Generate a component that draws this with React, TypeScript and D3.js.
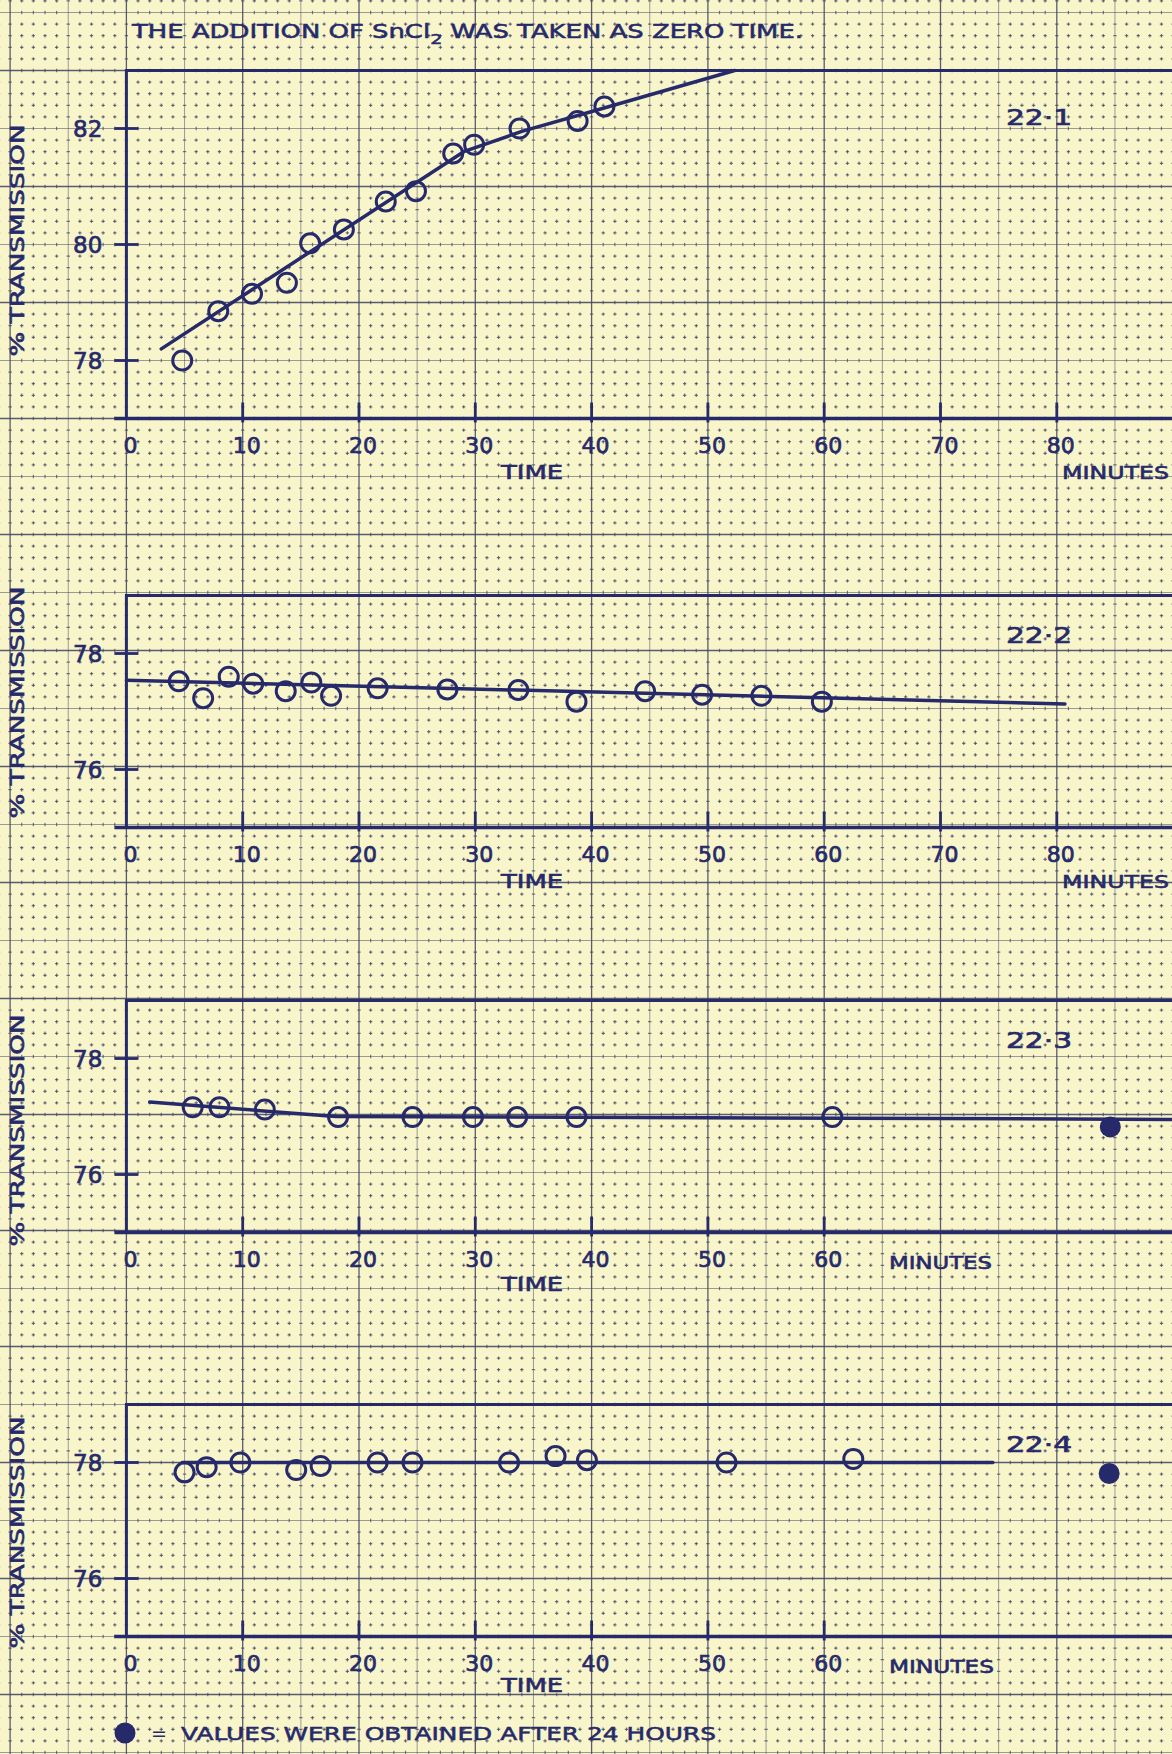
import React from 'react';
import * as d3 from 'd3';

const W = 1172;
const H = 1754;
const BG = '#f8f5ca';
const INK = '#262a6b';
const GRID = '#3f4160';
const FONT = '"DejaVu Sans", "Liberation Sans", sans-serif';

// ---------- data (time in minutes, % transmission) ----------
const p1Times = [4.8, 7.9, 10.8, 13.8, 15.8, 18.7, 22.3, 24.9, 28.1, 29.9, 33.8, 38.8, 41.1];
const p1Values = [78.0, 78.85, 79.15, 79.34, 80.02, 80.26, 80.74, 80.92, 81.57, 81.72, 82.0, 82.13, 82.38];
const p1FitTimes = [3, 29, 34, 41, 52.3];
const p1FitValues = [78.2, 81.6, 81.95, 82.35, 83.0];

const p2Times = [4.5, 6.6, 8.8, 10.9, 13.7, 15.9, 17.6, 21.6, 27.6, 33.7, 38.7, 44.6, 49.5, 54.6, 59.8];
const p2Values = [77.52, 77.23, 77.6, 77.48, 77.35, 77.5, 77.27, 77.4, 77.38, 77.37, 77.17, 77.35, 77.29, 77.27, 77.17];
const p2FitTimes = [0, 80.7];
const p2FitValues = [77.54, 77.13];

const p3Times = [5.7, 8.0, 11.9, 18.2, 24.6, 29.8, 33.6, 38.7, 60.7];
const p3Values = [77.16, 77.16, 77.12, 76.99, 76.99, 76.99, 76.99, 76.99, 76.99];
const p3FitTimes = [2.0, 18.0, 90.0];
const p3FitValues = [77.25, 77.0, 76.95];
const p3After24hTime = [84.6];
const p3After24hValue = [76.82];

const p4Times = [5.0, 6.9, 9.8, 14.6, 16.7, 21.6, 24.6, 32.9, 36.9, 39.6, 51.6, 62.5];
const p4Values = [77.83, 77.92, 78.0, 77.87, 77.94, 78.0, 78.0, 78.0, 78.11, 78.04, 78.0, 78.06];
const p4FitTimes = [4.8, 74.5];
const p4FitValues = [78.0, 78.0];
const p4After24hTime = [84.5];
const p4After24hValue = [77.81];

const panelIds = ['22·1', '22·2', '22·3', '22·4'];
const xTicksLong = [0, 10, 20, 30, 40, 50, 60, 70, 80];
const xTicksShort = [0, 10, 20, 30, 40, 50, 60];
const yTicksP1 = [78, 80, 82];
const yTicksOther = [76, 78];
const yLabel = '% TRANSMISSION';
const titleText = 'THE ADDITION OF ';
const legendText = 'VALUES WERE OBTAINED AFTER 24 HOURS';

// ---------- layout ----------
const X0 = 126.4;
const DX = 116.3; // px per 10 minutes
const Y0 = 70.5;
const DY = 116.0; // px per major square

const zip = (a: number[], b: number[]) => a.map((v, i) => [v, b[i]] as [number, number]);

type PanelCfg = {
  id: string;
  pts: [number, number][];
  fit: [number, number][];
  filled: [number, number][];
  yDomain: [number, number];
  top: number;
  yTicks: number[];
  xTicks: number[];
  labelCenterOffset: number;
  idDy: number;
  minutesX: number;
  minutesW: number;
  minutesDy: number;
  timeDy: number;
  numDy: number;
};

const panels: PanelCfg[] = [
  {
    id: panelIds[0], pts: zip(p1Times, p1Values), fit: zip(p1FitTimes, p1FitValues), filled: [],
    yDomain: [77, 83], top: Y0, yTicks: yTicksP1, xTicks: xTicksLong, labelCenterOffset: -4, idDy: 54,
    minutesX: 1062, minutesW: 107, minutesDy: 60, timeDy: 60, numDy: 34,
  },
  {
    id: panelIds[1], pts: zip(p2Times, p2Values), fit: zip(p2FitTimes, p2FitValues), filled: [],
    yDomain: [75, 79], top: Y0 + 4.5 * DY + 3, yTicks: yTicksOther, xTicks: xTicksLong, labelCenterOffset: -9, idDy: 47,
    minutesX: 1062, minutesW: 107, minutesDy: 60, timeDy: 60, numDy: 34,
  },
  {
    id: panelIds[2], pts: zip(p3Times, p3Values), fit: zip(p3FitTimes, p3FitValues),
    filled: zip(p3After24hTime, p3After24hValue),
    yDomain: [75, 79], top: Y0 + 8 * DY + 2, yTicks: yTicksOther, xTicks: xTicksShort, labelCenterOffset: 14, idDy: 47,
    minutesX: 889, minutesW: 103, minutesDy: 36, timeDy: 58, numDy: 34,
  },
  {
    id: panelIds[3], pts: zip(p4Times, p4Values), fit: zip(p4FitTimes, p4FitValues),
    filled: zip(p4After24hTime, p4After24hValue),
    yDomain: [75, 79], top: Y0 + 11.5 * DY, yTicks: yTicksOther, xTicks: xTicksShort, labelCenterOffset: 12, idDy: 47,
    minutesX: 889, minutesW: 105, minutesDy: 36, timeDy: 55, numDy: 34,
  },
];

function Grid() {
  const mx = DX / 10;
  const my = DY / 10;
  const kx0 = Math.ceil(X0 / mx);
  const ky0 = Math.ceil(Y0 / my);
  const xs = d3.range(-kx0, Math.ceil((W - X0) / mx) + 1).map((k) => ({ k, v: X0 + k * mx }));
  const ys = d3.range(-ky0, Math.ceil((H - Y0) / my) + 1).map((k) => ({ k, v: Y0 + k * my }));
  const startY = Y0 - ky0 * my;
  const startX = X0 - kx0 * mx;
  const mod = (a: number, n: number) => ((a % n) + n) % n;
  const minorDash = 3.4;
  return (
    <g>
      {xs.map(({ k, v }) => {
        const m = mod(k, 10);
        if (m === 0) return <line key={'vx' + k} x1={v} x2={v} y1={0} y2={H} stroke={GRID} strokeWidth={1.3} opacity={0.85} />;
        if (m === 5) return <line key={'vx' + k} x1={v} x2={v} y1={0} y2={H} stroke={GRID} strokeWidth={1} opacity={0.5} />;
        return (
          <line key={'vx' + k} x1={v} x2={v} y1={startY - minorDash / 2} y2={H} stroke={GRID} strokeWidth={1.2}
            opacity={0.7} strokeDasharray={`${minorDash} ${my - minorDash}`} />
        );
      })}
      {ys.map(({ k, v }) => {
        const m = mod(k, 10);
        if (m === 0) return <line key={'hy' + k} y1={v} y2={v} x1={0} x2={W} stroke={GRID} strokeWidth={1.3} opacity={0.85} />;
        if (m === 5) return <line key={'hy' + k} y1={v} y2={v} x1={0} x2={W} stroke={GRID} strokeWidth={1} opacity={0.5} />;
        return (
          <line key={'hy' + k} y1={v} y2={v} x1={startX - minorDash / 2} x2={W} stroke={GRID} strokeWidth={1.2}
            opacity={0.7} strokeDasharray={`${minorDash} ${mx - minorDash}`} />
        );
      })}
    </g>
  );
}

function Panel({ p }: { p: PanelCfg }) {
  const span = p.yDomain[1] - p.yDomain[0];
  const bottom = p.top + span * (DY / 2);
  const x = d3.scaleLinear().domain([0, 80]).range([X0, X0 + 8 * DX]);
  const y = d3.scaleLinear().domain(p.yDomain).range([bottom, p.top]);
  const line = d3.line<[number, number]>().x((d) => x(d[0])).y((d) => y(d[1]));
  const fitPts = p.fit.map(([t, v]) => [t, Math.min(v, p.yDomain[1])] as [number, number]);
  const cy = (p.top + bottom) / 2 + p.labelCenterOffset;
  return (
    <g>
      {/* frame */}
      <line x1={x(0)} x2={W} y1={p.top} y2={p.top} stroke={INK} strokeWidth={3} />
      <line x1={x(0) - 12} x2={W} y1={bottom} y2={bottom} stroke={INK} strokeWidth={3.4} />
      <line x1={x(0)} x2={x(0)} y1={p.top - 1.5} y2={bottom + 1.5} stroke={INK} strokeWidth={3} />
      {/* y ticks */}
      {p.yTicks.map((t) => (
        <g key={'yt' + t}>
          <line x1={x(0) - 12} x2={x(0) + 12} y1={y(t)} y2={y(t)} stroke={INK} strokeWidth={2.8} />
          <text x={x(0) - 24} y={y(t) + 8} textAnchor="end" fontSize={23} fontFamily={FONT} fill={INK} stroke={INK} strokeWidth={0.7}>
            {t}
          </text>
        </g>
      ))}
      {/* x ticks */}
      {p.xTicks.map((t) => (
        <g key={'xt' + t}>
          {t > 0 && <line x1={x(t)} x2={x(t)} y1={bottom - 16} y2={bottom + 4} stroke={INK} strokeWidth={2.8} />}
          <text x={x(t) + 4} y={bottom + p.numDy} textAnchor="middle" fontSize={22} fontFamily={FONT} fill={INK} stroke={INK} strokeWidth={0.7}>
            {t}
          </text>
        </g>
      ))}
      <text x={501} y={bottom + p.timeDy} fontSize={19} fontFamily={FONT} fill={INK} stroke={INK} strokeWidth={0.6} textLength={62} lengthAdjust="spacingAndGlyphs">
        TIME
      </text>
      <text x={p.minutesX} y={bottom + p.minutesDy} fontSize={18} fontFamily={FONT} fill={INK} stroke={INK} strokeWidth={0.6} textLength={p.minutesW} lengthAdjust="spacingAndGlyphs">
        MINUTES
      </text>
      {/* y label */}
      <text
        transform={`translate(24,${cy}) rotate(-90)`}
        textAnchor="middle"
        fontSize={19}
        fontFamily={FONT}
        fill={INK}
        stroke={INK}
        strokeWidth={0.6}
        textLength={232}
        lengthAdjust="spacingAndGlyphs"
      >
        {yLabel}
      </text>
      {/* panel id */}
      <text x={1006} y={p.top + p.idDy} fontSize={22} fontFamily={FONT} fill={INK} stroke={INK} strokeWidth={0.7} textLength={66} lengthAdjust="spacingAndGlyphs">
        {p.id}
      </text>
      {/* fit line */}
      <path d={line(fitPts) || ''} fill="none" stroke={INK} strokeWidth={3.5} strokeLinecap="round" strokeLinejoin="round" />
      {/* points */}
      {p.pts.map(([t, v], i) => (
        <circle key={'c' + i} cx={x(t)} cy={y(v)} r={9.5} fill="none" stroke={INK} strokeWidth={3} />
      ))}
      {p.filled.map(([t, v], i) => (
        <circle key={'f' + i} cx={x(t)} cy={y(v)} r={10.5} fill={INK} />
      ))}
    </g>
  );
}

export default function App() {
  return (
    <svg width={W} height={H} viewBox={`0 0 ${W} ${H}`} style={{ position: 'absolute', left: 0, top: 0, display: 'block' }}>
      <rect x={0} y={0} width={W} height={H} fill={BG} />
      <Grid />
      {/* title */}
      <text x={132} y={38} fontSize={19} fontFamily={FONT} fill={INK} stroke={INK} strokeWidth={0.5} textLength={671} lengthAdjust="spacingAndGlyphs">
        {titleText}
        <tspan>SnCl</tspan>
        <tspan dy={6} fontSize={14}>2</tspan>
        <tspan dy={-6}> WAS TAKEN AS ZERO TIME.</tspan>
      </text>
      {panels.map((p) => (
        <Panel key={p.id} p={p} />
      ))}
      {/* legend */}
      <circle cx={125} cy={1733} r={10.5} fill={INK} />
      <text x={151} y={1740} fontSize={19} fontFamily={FONT} fill={INK}>=</text>
      <text x={181} y={1740} fontSize={18} fontFamily={FONT} fill={INK} stroke={INK} strokeWidth={0.5} textLength={535} lengthAdjust="spacingAndGlyphs">
        {legendText}
      </text>
    </svg>
  );
}
